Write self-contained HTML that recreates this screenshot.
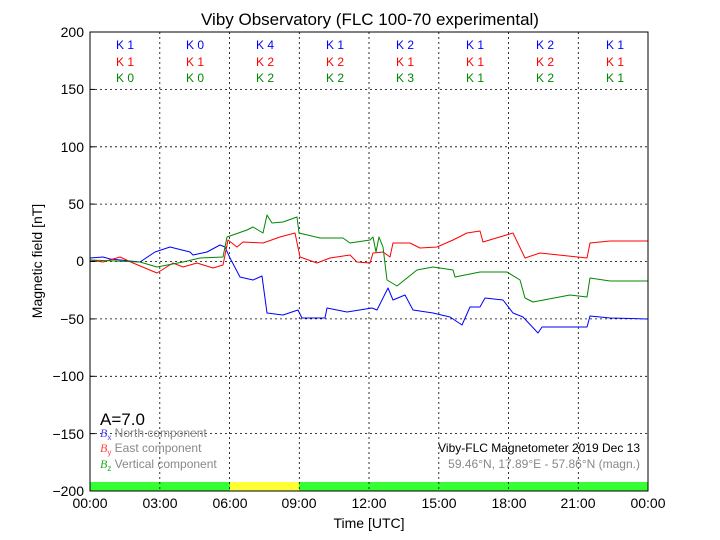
<!DOCTYPE html>
<html><head><style>body{margin:0;background:#fff}svg{display:block}</style></head><body>
<svg width="720" height="540" xmlns="http://www.w3.org/2000/svg" font-family="Liberation Sans, sans-serif">
<rect width="720" height="540" fill="#fff"/>
<rect x="90" y="482" width="558" height="9" fill="#3f3"/>
<rect x="230" y="482" width="69" height="9" fill="#ff3"/>
<g stroke="#000" stroke-width="0.8" stroke-dasharray="2,3">
<line x1="90" y1="89.4" x2="648" y2="89.4"/><line x1="90" y1="146.8" x2="648" y2="146.8"/><line x1="90" y1="204.1" x2="648" y2="204.1"/><line x1="90" y1="261.5" x2="648" y2="261.5"/><line x1="90" y1="318.9" x2="648" y2="318.9"/><line x1="90" y1="376.3" x2="648" y2="376.3"/><line x1="90" y1="433.6" x2="648" y2="433.6"/>
<line x1="159.8" y1="32" x2="159.8" y2="491"/><line x1="229.5" y1="32" x2="229.5" y2="491"/><line x1="299.3" y1="32" x2="299.3" y2="491"/><line x1="369" y1="32" x2="369" y2="491"/><line x1="438.8" y1="32" x2="438.8" y2="491"/><line x1="508.5" y1="32" x2="508.5" y2="491"/><line x1="578.3" y1="32" x2="578.3" y2="491"/>
</g>
<g fill="none" stroke-width="1" stroke-linejoin="round">
<polyline stroke="#00f" points="90,258 103,257 110,259 140,262 155,252 170,247 190,252 193,255 207,252 220,245 225,247 230,258 240,277 253,280 262,276 267,313 283,315 298,310 302,318 325,318 327,308 347,312 372,308 377,310 388,288 393,300 405,295 413,310 433,313 450,317 462,325 470,307 480,307 485,298 503,300 513,313 523,317 538,333 542,327 587,327 590,316 610,318 648,319"/>
<polyline stroke="#f00" points="90,260 103,262 120,257 133,263 157,273 173,263 183,267 197,263 213,268 223,265 228,240 237,247 243,242 263,243 280,237 295,233 300,257 317,263 330,258 350,255 357,262 370,263 373,253 383,252 390,257 393,243 410,243 420,248 437,247 453,240 467,233 480,231 483,242 513,233 525,258 540,253 587,258 590,243 610,241 648,241"/>
<polyline stroke="#080" points="90,260 140,262 157,267 183,262 200,258 223,257 227,237 247,230 253,227 263,233 267,215 272,223 283,222 297,217 299,233 320,238 343,238 350,243 370,240 373,237 376,252 379,237 383,247 387,280 397,286 417,270 433,267 453,270 455,277 480,272 507,272 520,280 525,298 533,302 570,295 587,297 590,278 610,281 648,281"/>
</g>
<rect x="90" y="32" width="558" height="459" fill="none" stroke="#000" stroke-width="1"/>
<g stroke="#000"><line x1="90" y1="89.4" x2="95" y2="89.4"/><line x1="90" y1="146.8" x2="95" y2="146.8"/><line x1="90" y1="204.1" x2="95" y2="204.1"/><line x1="90" y1="261.5" x2="95" y2="261.5"/><line x1="90" y1="318.9" x2="95" y2="318.9"/><line x1="90" y1="376.3" x2="95" y2="376.3"/><line x1="90" y1="433.6" x2="95" y2="433.6"/></g>
<text x="370" y="25" font-size="17" text-anchor="middle">Viby Observatory (FLC 100-70 experimental)</text>
<g font-size="14" text-anchor="end"><text x="84" y="37">200</text><text x="84" y="94">150</text><text x="84" y="152">100</text><text x="84" y="209">50</text><text x="84" y="266">0</text><text x="84" y="324">−50</text><text x="84" y="381">−100</text><text x="84" y="439">−150</text><text x="84" y="496">−200</text></g>
<g font-size="14" text-anchor="middle"><text x="90" y="508">00:00</text><text x="160" y="508">03:00</text><text x="230" y="508">06:00</text><text x="299" y="508">09:00</text><text x="369" y="508">12:00</text><text x="439" y="508">15:00</text><text x="509" y="508">18:00</text><text x="578" y="508">21:00</text><text x="648" y="508">00:00</text></g>
<text x="369" y="528" font-size="14" text-anchor="middle">Time [UTC]</text>
<text transform="translate(42,261) rotate(-90)" font-size="14" text-anchor="middle">Magnetic field [nT]</text>
<g font-size="12" text-anchor="middle">
<g fill="#00f"><text x="125" y="49">K 1</text><text x="195" y="49">K 0</text><text x="265" y="49">K 4</text><text x="335" y="49">K 1</text><text x="405" y="49">K 2</text><text x="475" y="49">K 1</text><text x="545" y="49">K 2</text><text x="615" y="49">K 1</text></g>
<g fill="#f00"><text x="125" y="66">K 1</text><text x="195" y="66">K 1</text><text x="265" y="66">K 2</text><text x="335" y="66">K 2</text><text x="405" y="66">K 1</text><text x="475" y="66">K 1</text><text x="545" y="66">K 2</text><text x="615" y="66">K 1</text></g>
<g fill="#080"><text x="125" y="82">K 0</text><text x="195" y="82">K 0</text><text x="265" y="82">K 2</text><text x="335" y="82">K 2</text><text x="405" y="82">K 3</text><text x="475" y="82">K 1</text><text x="545" y="82">K 2</text><text x="615" y="82">K 1</text></g>
</g>
<text x="100" y="425" font-size="17">A=7.0</text>
<g font-size="12" fill="#888">
<text x="100" y="437"><tspan fill="#44f" font-family="Liberation Serif" font-style="italic">B</tspan><tspan fill="#44f" font-size="8" dy="3">x</tspan><tspan dy="-3"> North component</tspan></text>
<text x="100" y="452"><tspan fill="#f44" font-family="Liberation Serif" font-style="italic">B</tspan><tspan fill="#f44" font-size="8" dy="3">y</tspan><tspan dy="-3"> East component</tspan></text>
<text x="100" y="468"><tspan fill="#2a2" font-family="Liberation Serif" font-style="italic">B</tspan><tspan fill="#2a2" font-size="8" dy="3">z</tspan><tspan dy="-3"> Vertical component</tspan></text>
<text x="640" y="468" text-anchor="end">59.46°N, 17.89°E - 57.86°N (magn.)</text>
</g>
<text x="640" y="452" font-size="12" text-anchor="end">Viby-FLC Magnetometer 2019 Dec 13</text>
</svg>
</body></html>
